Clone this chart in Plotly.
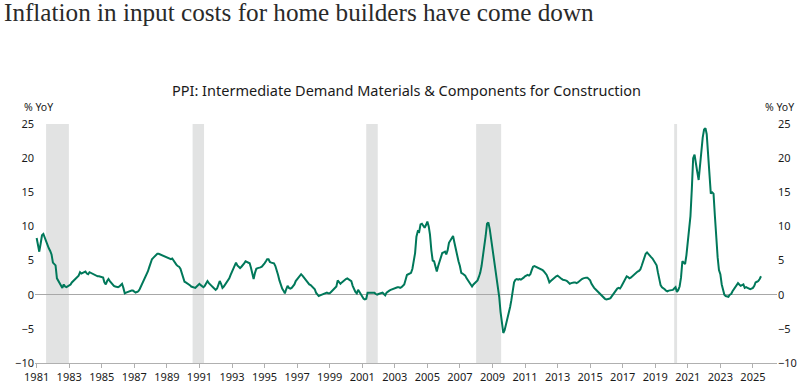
import plotly.graph_objects as go

# ---- data (monthly, % YoY) ----
start_year = 1981
ppi_yoy = [
    # 1981
    8.3, 7.0, 6.3, 7.5, 8.7, 8.9, 8.4, 7.6, 7.1, 6.8, 6.4, 5.9,
    # 1982
    4.7, 4.5, 4.3, 2.4, 2.0, 1.7, 1.3, 1.0, 1.5, 1.2, 1.1, 1.2,
    # 1983
    1.3, 1.5, 1.8, 2.0, 2.2, 2.5, 2.6, 2.8, 3.3, 3.1, 3.2, 3.3,
    # 1984
    3.4, 3.1, 3.0, 3.3, 3.2, 3.1, 3.0, 2.8, 2.7, 2.7, 2.7, 2.6,
    # 1985
    2.6, 2.5, 1.8, 1.5, 2.0, 2.3, 2.0, 1.7, 1.5, 1.3, 1.2, 1.1,
    # 1986
    1.1, 1.2, 1.4, 1.6, 1.0, 0.2, 0.3, 0.4, 0.5, 0.5, 0.6, 0.6,
    # 1987
    0.4, 0.3, 0.4, 0.5, 0.8, 1.2, 1.6, 2.0, 2.5, 3.0, 3.4, 4.0,
    # 1988
    4.8, 5.2, 5.4, 5.6, 5.8, 6.0, 6.0, 5.9, 5.8, 5.7, 5.6, 5.6,
    # 1989
    5.5, 5.4, 5.3, 5.2, 5.3, 5.0, 4.6, 4.4, 4.2, 4.1, 3.8, 3.2,
    # 1990
    2.4, 1.9, 1.8, 1.7, 1.6, 1.4, 1.2, 1.1, 1.0, 1.0, 1.2, 1.4,
    # 1991
    1.6, 1.4, 1.2, 1.1, 1.3, 1.7, 2.0, 1.7, 1.4, 1.3, 1.1, 0.9,
    # 1992
    0.7, 0.9, 1.5, 2.0, 1.6, 1.0, 1.2, 1.5, 1.7, 2.0, 2.4, 2.9,
    # 1993
    3.4, 3.9, 4.4, 4.7, 4.3, 4.0, 3.9, 4.1, 4.3, 4.6, 4.9, 4.8,
    # 1994
    4.7, 4.6, 4.0, 3.2, 2.3, 3.2, 3.8, 3.9, 3.9, 4.0, 4.1, 4.3,
    # 1995
    4.6, 4.9, 5.2, 5.2, 4.8, 4.7, 4.7, 4.6, 4.2, 3.7, 2.9, 2.1,
    # 1996
    1.3, 0.9, 0.6, 0.2, 0.8, 1.3, 1.0, 0.9, 1.0, 1.2, 1.5, 2.0,
    # 1997
    2.3, 2.6, 2.8, 3.0, 2.8, 2.5, 2.2, 1.9, 1.7, 1.5, 1.4, 1.2,
    # 1998
    1.1, 0.8, 0.3, 0.1, -0.2, -0.1, 0.0, 0.1, 0.2, 0.3, 0.3, 0.2,
    # 1999
    0.2, 0.4, 0.6, 0.7, 0.9, 1.2, 2.1, 1.9, 1.6, 1.8, 2.0, 2.2,
    # 2000
    2.3, 2.4, 2.3, 2.2, 2.0, 1.3, 0.7, 0.4, 0.2, 0.7, 0.4, 0.0,
    # 2001
    -0.3, -0.6, -0.7, -0.6, 0.3, 0.3, 0.2, 0.2, 0.3, 0.3, 0.1, 0.0,
    # 2002
    0.1, 0.2, 0.3, 0.3, 0.1, -0.1, 0.3, 0.5, 0.6, 0.7, 0.8, 0.9,
    # 2003
    0.9, 1.0, 1.1, 1.1, 1.0, 1.1, 1.3, 1.5, 2.2, 2.9, 3.0, 3.1,
    # 2004
    3.2, 3.8, 5.0, 6.1, 8.5, 9.3, 9.2, 10.3, 10.4, 10.0, 9.8, 10.2,
    # 2005
    10.7, 10.0, 8.8, 6.5, 5.0, 4.9, 4.0, 3.4, 4.2, 4.9, 5.6, 6.1,
    # 2006
    6.2, 6.3, 5.9, 6.5, 7.6, 8.0, 8.4, 8.6, 7.6, 6.6, 5.6, 4.9,
    # 2007
    4.2, 3.2, 3.1, 3.0, 2.8, 2.4, 2.1, 1.8, 1.4, 1.2, 1.5, 1.7,
    # 2008
    1.9, 2.1, 2.6, 3.2, 4.2, 5.5, 6.8, 8.6, 10.4, 10.6, 9.6, 8.2,
    # 2009
    7.0, 6.0, 4.6, 3.0, 1.4, -0.3, -2.5, -4.3, -5.6, -5.2, -4.4, -3.7,
    # 2010
    -3.0, -1.8, -0.8, 0.6, 1.8, 2.2, 2.3, 2.2, 2.3, 2.2, 2.3, 2.5,
    # 2011
    2.7, 2.8, 2.9, 2.8, 3.0, 3.6, 4.1, 4.2, 4.1, 4.1, 4.0, 3.9,
    # 2012
    3.8, 3.6, 3.4, 3.2, 2.9, 2.4, 1.8, 2.0, 2.2, 2.4, 2.6, 2.7,
    # 2013
    2.8, 2.6, 2.4, 2.3, 2.2, 2.2, 2.1, 2.0, 1.8, 1.6, 1.7, 1.8,
    # 2014
    1.8, 1.8, 1.7, 1.8, 2.0, 2.1, 2.3, 2.4, 2.5, 2.5, 2.5, 2.3,
    # 2015
    2.1, 1.6, 1.2, 1.0, 0.8, 0.6, 0.4, 0.1, -0.1, -0.3, -0.5, -0.6,
    # 2016
    -0.7, -0.7, -0.6, -0.5, -0.2, 0.1, 0.3, 0.6, 0.9, 1.0, 0.9, 1.2,
    # 2017
    1.6, 2.0, 2.4, 2.7, 2.6, 2.4, 2.5, 2.7, 2.9, 3.1, 3.3, 3.4,
    # 2018
    3.5, 3.7, 4.2, 4.9, 5.5, 6.0, 6.2, 5.9, 5.6, 5.5, 5.3, 5.0,
    # 2019
    4.7, 4.3, 3.3, 2.2, 1.4, 1.1, 1.0, 0.8, 0.6, 0.5, 0.6, 0.6,
    # 2020
    0.6, 0.7, 0.9, 1.1, 0.4, 0.7, 1.2, 2.5, 4.9, 4.7, 4.5, 5.8,
    # 2021
    7.5, 9.5, 11.5, 15.5, 20.0, 20.5, 19.5, 18.0, 16.8, 19.0, 21.2, 23.0,
    # 2022
    24.2, 24.4, 23.5, 21.0, 17.5, 14.8, 15.0, 14.8, 11.5, 8.0, 5.5, 3.6,
    # 2023
    3.0, 1.5, 0.8, 0.0, -0.2, -0.2, -0.3, 0.0, 0.1, 0.5, 0.8, 1.0,
    # 2024
    1.3, 1.7, 1.5, 1.3, 1.4, 1.5, 1.0, 1.1, 1.0, 0.9, 0.8, 0.9,
    # 2025
    1.0, 1.3, 1.8, 1.9, 2.0, 2.3, 2.7,
]
dates = [f"{start_year + i // 12}-{i % 12 + 1:02d}-01" for i in range(len(ppi_yoy))]

recession_starts = ["1981-08-01", "1990-08-01", "2001-04-01", "2008-01-01", "2020-03-01"]
recession_ends = ["1982-12-25", "1991-04-15", "2001-12-15", "2009-07-15", "2020-05-05"]

title_text = "Inflation in input costs for home builders have come down"
subtitle_text = "PPI: Intermediate Demand Materials & Components for Construction"
y_unit = "% YoY"
y_ticks = [-10, -5, 0, 5, 10, 15, 20, 25]
x_tick_years = list(range(1981, 2026, 2))

# ---- figure ----
LINE = "#00785a"
SHADE = "#e2e3e3"
AXIS = "#b0b0b0"
TXT = "#1a1a1a"
SANS = "Noto Sans, Open Sans, sans-serif"

fig = go.Figure()
fig.add_trace(go.Scatter(
    x=dates, y=ppi_yoy, mode="lines",
    line=dict(color=LINE, width=2), showlegend=False, hoverinfo="x+y",
))
# trace on the right axis so it is drawn
fig.add_trace(go.Scatter(
    x=dates, y=ppi_yoy, mode="lines", yaxis="y2",
    line=dict(color="rgba(0,0,0,0)", width=0), showlegend=False, hoverinfo="skip",
))

shapes = []
for s, e in zip(recession_starts, recession_ends):
    shapes.append(dict(type="rect", xref="x", yref="paper", x0=s, x1=e, y0=0, y1=1,
                       fillcolor=SHADE, line=dict(width=0), layer="below"))

tickfont = dict(family=SANS, size=11, color=TXT)

fig.update_layout(
    width=808, height=389,
    margin=dict(l=35, r=31, t=124, b=26, autoexpand=False),
    paper_bgcolor="white", plot_bgcolor="white",
    shapes=shapes,
    xaxis=dict(
        type="date", automargin=False,
        range=["1980-11-25", "2026-06-25"],
        tickvals=[f"{y}-01-01" for y in x_tick_years],
        ticktext=[str(y) for y in x_tick_years],
        showgrid=False, zeroline=False,
        showline=True, linecolor=AXIS, linewidth=1,
        ticks="outside", ticklen=4, tickcolor=AXIS, tickwidth=1,
        tickfont=tickfont,
    ),
    yaxis=dict(
        range=[-10, 25], tickvals=y_ticks, automargin=False,
        showgrid=False, zeroline=True, zerolinecolor="#a8a8a8", zerolinewidth=1,
        showline=False, ticks="", tickfont=tickfont,
    ),
    yaxis2=dict(
        range=[-10, 25], tickvals=y_ticks, overlaying="y", side="right", automargin=False,
        showgrid=False, zeroline=False, showline=False, ticks="", tickfont=tickfont,
    ),
    annotations=[
        dict(text=title_text, xref="paper", yref="paper", x=-0.0445, y=1.468,
             xanchor="left", yanchor="middle", showarrow=False,
             font=dict(family="Liberation Serif, serif", size=25.2, color="#2a2a2a")),
        dict(text=subtitle_text, xref="paper", yref="paper", x=0.5, y=1.142,
             xanchor="center", yanchor="middle", showarrow=False,
             font=dict(family=SANS, size=14.5, color=TXT)),
        dict(text=y_unit, xref="paper", yref="paper", x=-0.0175, y=1.071,
             xanchor="left", yanchor="middle", showarrow=False,
             font=dict(family=SANS, size=10.5, color=TXT)),
        dict(text=y_unit, xref="paper", yref="paper", x=1.0256, y=1.071,
             xanchor="right", yanchor="middle", showarrow=False,
             font=dict(family=SANS, size=10.5, color=TXT)),
    ],
)

fig.write_html(
    "out.html",
    config={"displayModeBar": False},
    post_script="document.body.style.margin='0';document.body.style.overflow='hidden';",
)
